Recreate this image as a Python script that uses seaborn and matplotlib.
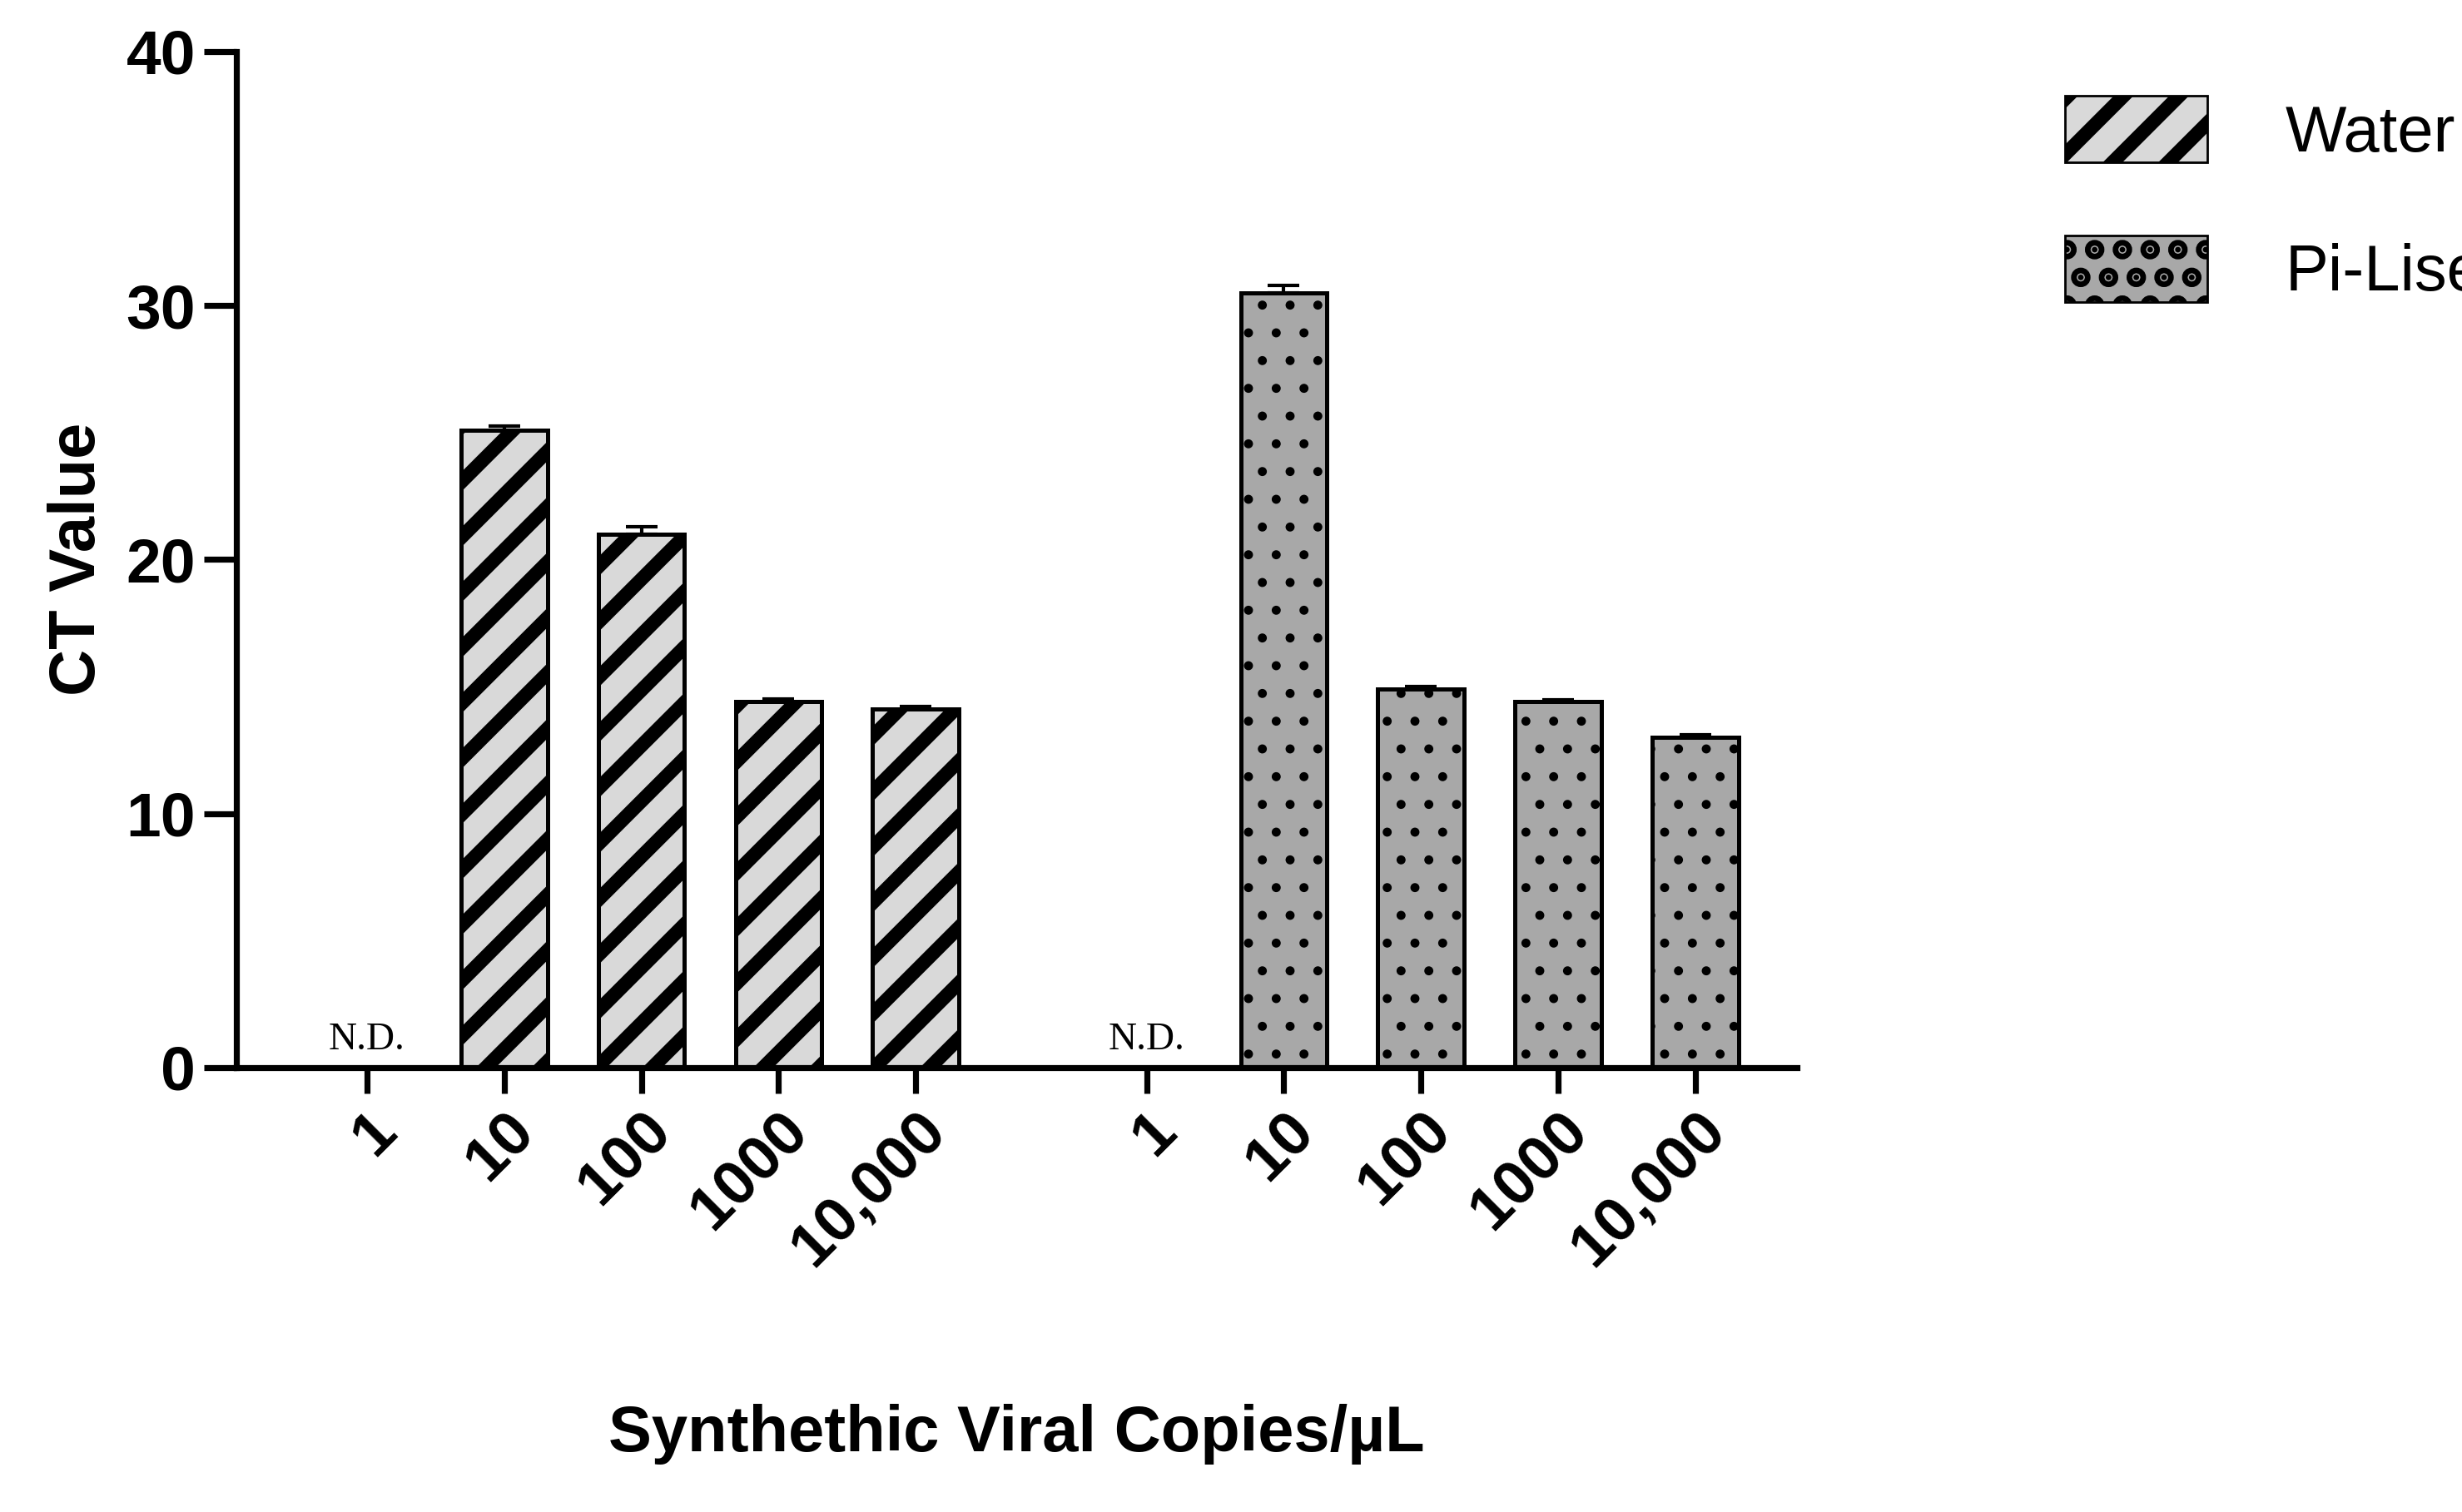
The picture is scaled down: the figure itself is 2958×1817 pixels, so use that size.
import numpy as np
import pandas as pd
import matplotlib
matplotlib.use('Agg')
import matplotlib.pyplot as plt
import seaborn as sns
from matplotlib.patches import Patch

sns.set_style('ticks')
plt.rcParams['font.family'] = ['Liberation Sans', 'DejaVu Sans']
plt.rcParams['text.color'] = 'black'
plt.rcParams['axes.labelcolor'] = 'black'
plt.rcParams['xtick.color'] = 'black'
plt.rcParams['ytick.color'] = 'black'
plt.rcParams['axes.edgecolor'] = 'black'
plt.rcParams['hatch.linewidth'] = 6.0

# data
copies = ['1', '10', '100', '1000', '10,000']
water = [np.nan, 25.1, 21.0, 14.4, 14.1]
water_err = [0, 0.15, 0.3, 0.12, 0.1]
pilise = [np.nan, 30.5, 14.9, 14.4, 13.0]
pilise_err = [0, 0.3, 0.1, 0.08, 0.1]

gap = 1.68
pos_w = np.arange(5, dtype=float)
pos_p = pos_w + 4 + gap

df = pd.DataFrame({
    'pos': np.concatenate([pos_w, pos_p]),
    'ct': water + pilise,
    'group': ['Water'] * 5 + ['Pi-Lise'] * 5,
})


def style_patch(p, water_like):
    if water_like:
        p.set_hatch('/')
    else:
        p.set_hatch('.')
        try:
            p.set_hatch_linewidth(1.5)
        except AttributeError:
            pass


fig = plt.figure(figsize=(14.79, 9.085), dpi=200)
ax = fig.add_axes([0.096, 0.294, 0.634, 0.672])

sns.barplot(data=df.dropna(), x='pos', y='ct', hue='group', native_scale=True,
            dodge=False, width=0.63, errorbar=None, legend=False, ax=ax,
            palette={'Water': '#d9d9d9', 'Pi-Lise': '#a8a8a8'},
            edgecolor='black', linewidth=1.8)

for p in ax.patches:
    cx = p.get_x() + p.get_width() / 2
    style_patch(p, cx < 4.5)

ax.errorbar(pos_w, water, yerr=[np.zeros(5), water_err], fmt='none',
            ecolor='black', elinewidth=1.5, capsize=7, capthick=1.5)
ax.errorbar(pos_p, pilise, yerr=[np.zeros(5), pilise_err], fmt='none',
            ecolor='black', elinewidth=1.5, capsize=7, capthick=1.5)

for x in [pos_w[0], pos_p[0]]:
    ax.text(x, 0.4, 'N.D.', ha='center', va='bottom', fontsize=17,
            family='Liberation Serif')

ax.set_xlim(-0.95, 10.42)
ax.set_ylim(0, 40)
ax.set_yticks([0, 10, 20, 30, 40])
ax.set_xticks(np.concatenate([pos_w, pos_p]))
ax.set_xticklabels(copies * 2, rotation=45, ha='right', rotation_mode='anchor')
for lab in ax.get_xticklabels() + ax.get_yticklabels():
    lab.set_fontweight('bold')
    lab.set_fontsize(27)
ax.tick_params(axis='y', length=14, width=2.6)
ax.tick_params(axis='x', length=11, width=2.6)
for s in ['left', 'bottom']:
    ax.spines[s].set_linewidth(2.6)
sns.despine(ax=ax)

ax.set_ylabel('CT Value', fontsize=28, fontweight='bold', labelpad=8)
ax.set_xlabel('Synthethic Viral Copies/µL', fontsize=28, fontweight='bold', labelpad=55)

h1 = Patch(facecolor='#d9d9d9', edgecolor='black', label='Water')
h2 = Patch(facecolor='#a8a8a8', edgecolor='black', label='Pi-Lise')
style_patch(h1, True)
style_patch(h2, False)
fig.legend(handles=[h1, h2], loc='upper left', bbox_to_anchor=(0.815, 0.975),
           frameon=False, fontsize=28, handlelength=2.2, handleheight=1.2,
           labelspacing=1.1, handletextpad=1.2)

fig.savefig('out.png', dpi=200)
